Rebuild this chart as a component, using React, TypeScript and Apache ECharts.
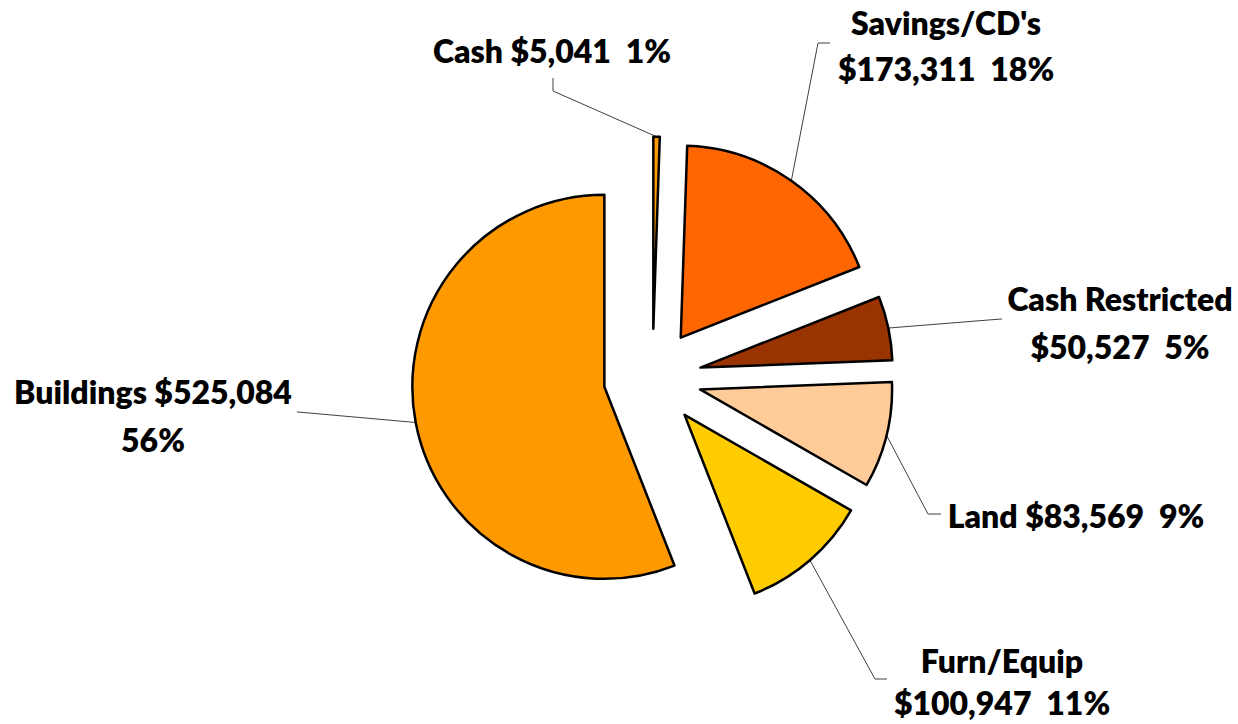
import React, { useEffect, useRef } from 'react';
import * as echarts from 'echarts';

const categories = ['Cash', "Savings/CD's", 'Cash Restricted', 'Land', 'Furn/Equip', 'Buildings'];
const values = [5041, 173311, 50527, 83569, 100947, 525084];
const colors = ['#FF9900', '#FF6600', '#993300', '#FFCC99', '#FFCC00', '#FF9900'];
// text joints of each label: between name and value, between value and percent
const nameValueSep = [' ', '\n', '\n', ' ', '\n', ' '];
const valuePctSep = ['  ', '  ', '  ', '  ', '  ', '\n'];

// layout
const PIE_CENTER = [652.5, 377.7];
const RADIUS = 192;
const EXPLODE = 49;
const labelPos = [
  [552, 50],
  [946, 45],
  [1120, 322],
  [1076, 515],
  [1002, 681],
  [153, 415],
];
const labelLineGap = [47, 46, 48, 47, 42, 48];
const leaderElbow = [
  [[553, 91], [553, 78]],
  [[818, 43], [830, 43]],
  [[1001, 319], [1002, 319]],
  [[928, 514], [941, 514]],
  [[875, 679], [887, 679]],
  [[298, 412], [297, 412]],
];

function fmtMoney(v: number) {
  return '$' + v.toLocaleString('en-US');
}

export default function App() {
  const ref = useRef<HTMLDivElement>(null);
  useEffect(() => {
    if (!ref.current) return;
    const chart = echarts.init(ref.current, undefined, { renderer: 'svg' });
    const total = values.reduce((a, b) => a + b, 0);
    let cum = 0;
    const mids = values.map((v) => {
      const m = ((cum + v / 2) / total) * 2 * Math.PI;
      cum += v;
      return m;
    });
    const series = values.map((_, i) => ({
      type: 'pie' as const,
      center: [PIE_CENTER[0] + EXPLODE * Math.sin(mids[i]), PIE_CENTER[1] - EXPLODE * Math.cos(mids[i])],
      radius: RADIUS,
      startAngle: 90,
      clockwise: true,
      avoidLabelOverlap: false,
      silent: true,
      emphasis: { disabled: true },
      data: categories.map((name, j) =>
        j === i
          ? {
              name,
              value: values[j],
              itemStyle: { color: colors[j], borderColor: '#000', borderWidth: 2.5 },
              label: {
                show: true,
                fontFamily: 'Lato',
                fontWeight: 800,
                fontSize: 32,
                color: '#000',
                lineHeight: labelLineGap[j],
                align: 'center',
                formatter: () =>
                  name + nameValueSep[j] + fmtMoney(values[j]) + valuePctSep[j] + Math.round((values[j] / total) * 100) + '%',
              },
              labelLine: { show: true, lineStyle: { color: '#404040', width: 1 } },
            }
          : {
              name,
              value: values[j],
              itemStyle: { color: 'rgba(0,0,0,0)', borderWidth: 0 },
              label: { show: false },
              labelLine: { show: false },
            }
      ),
      labelLayout: (p: any) => {
        if (p.dataIndex !== i) return {};
        const a = p.labelLinePoints && p.labelLinePoints[0];
        const out: any = {
          x: labelPos[i][0],
          y: labelPos[i][1],
          align: 'center',
          verticalAlign: 'middle',
        };
        if (a) out.labelLinePoints = [a, leaderElbow[i][0], leaderElbow[i][1]];
        return out;
      },
    }));
    chart.setOption({
      animation: false,
      backgroundColor: '#fff',
      series,
    });
    return () => chart.dispose();
  }, []);
  return <div ref={ref} style={{ position: 'fixed', left: 0, top: 0, width: 1238, height: 724 }} />;
}
